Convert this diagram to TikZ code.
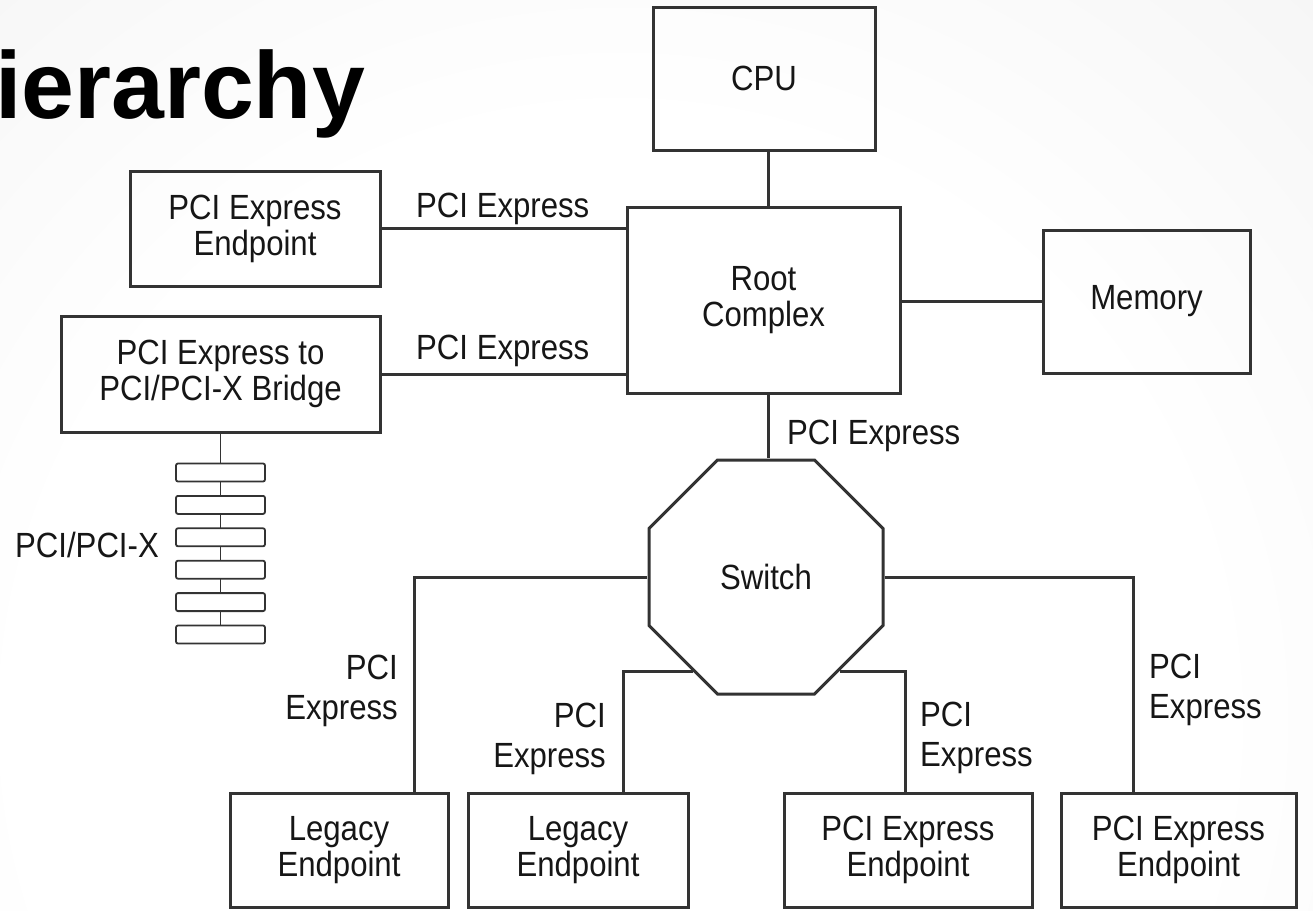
\documentclass[tikz,border=0pt]{standalone}
\usepackage{fontspec}
\setmainfont{Liberation Sans}[FakeStretch=0.89]
\newfontfamily\headfont{Liberation Sans}
\usetikzlibrary{shapes.geometric,calc}
\definecolor{ink}{HTML}{161616}
\definecolor{wire}{HTML}{333333}
\definecolor{bgedge}{HTML}{E0E0E0}
% soft light spot behind the diagram
\pgfdeclareradialshading{glow}{\pgfpoint{0bp}{0bp}}{color(0bp)=(white); color(7.5bp)=(white); color(25bp)=(bgedge); color(50bp)=(bgedge)}
\begin{document}
\begin{tikzpicture}[x=1pt,y=-1pt,
  wirestyle/.style={draw=wire, line width=3pt},
  thinwire/.style={draw=wire, line width=1.8pt},
  box/.style={draw=wire, line width=3pt, rectangle, inner sep=0pt, align=center,
    text=ink, font=\fontsize{35}{36}\selectfont},
  lbl/.style={text=ink, inner sep=0pt, font=\fontsize{35}{40}\selectfont},
  busrect/.style={draw=wire, line width=1.8pt, rounded corners=2pt,
    minimum width=89pt, minimum height=18pt, inner sep=0pt, outer sep=0pt}
]
\useasboundingbox (0,0) rectangle (1313,910);
% background
\fill[bgedge] (0,0) rectangle (1313,910);
\begin{scope}
  \clip (0,0) rectangle (1313,910);
  \shade[shading=glow] (620,720) circle (2000);
\end{scope}

% heading
\node[anchor=base west, inner sep=0pt, text=black,
  font=\headfont\bfseries\fontsize{95}{95}\selectfont] (title) at (-5,118) {ierarchy};

% main components
\node[box, minimum width=222pt, minimum height=143pt] (cpu) at (764,78.5) {CPU};
\node[box, minimum width=273pt, minimum height=186pt] (root) at (763.5,300) {Root\\Complex};
\node[box, minimum width=207pt, minimum height=143pt] (mem) at (1146.5,301.5) {Memory};
\node[box, minimum width=250pt, minimum height=115pt] (ep) at (255,228.5) {PCI Express\\Endpoint};
\node[box, minimum width=319pt, minimum height=116pt] (bridge) at (220.5,374) {PCI Express to\\PCI/PCI-X Bridge};
\node[draw=wire, line width=3pt, regular polygon, regular polygon sides=8,
  minimum size=253.3pt, inner sep=0pt, text=ink,
  font=\fontsize{35}{36}\selectfont] (switch) at (766,577) {Switch};

% endpoints below the switch
\node[box, minimum width=218pt, minimum height=114pt] (le1) at (339,850) {Legacy\\Endpoint};
\node[box, minimum width=220pt, minimum height=114pt] (le2) at (578,850) {Legacy\\Endpoint};
\node[box, minimum width=248pt, minimum height=114pt] (pe1) at (908,850) {PCI Express\\Endpoint};
\node[box, minimum width=235pt, minimum height=114pt] (pe2) at (1178.5,850) {PCI Express\\Endpoint};

% PCI/PCI-X bus slots
\foreach \i in {0,...,5}
  \node[busrect] (bus\i) at (220.5,{472.5+32.4*\i}) {};

% links
\draw[wirestyle] ([xshift=4pt]cpu.south) -- ([xshift=4pt]cpu.south |- root.north);
\draw[wirestyle] (root.east |- mem.west) -- (mem.west);
\draw[wirestyle] (ep.east) -- (ep.east -| root.west);
\draw[wirestyle] (bridge.east) -- (bridge.east -| root.west);
\draw[wirestyle] ([xshift=4.5pt]root.south) -- ([xshift=4.5pt]root.south |- switch.north);
\draw[wirestyle] (switch.west) -| ([xshift=75pt]le1.north);
\draw[wirestyle] (switch.232) -| ([xshift=45pt]le2.north);
\draw[wirestyle] (switch.308) -| ([xshift=-3pt]pe1.north);
\draw[wirestyle] (switch.east) -| ([xshift=-45.5pt]pe2.north);
\draw[thinwire] (bridge.south) -- (bus0.north);
\foreach \i [evaluate=\i as \j using int(\i+1)] in {0,...,4}
  \draw[thinwire] (bus\i.south) -- (bus\j.north);

% link labels
\node[lbl, anchor=base west] (l1) at (416,217) {PCI Express};
\node[lbl, anchor=base west] (l2) at (416,359) {PCI Express};
\node[lbl, anchor=base west] (l3) at (787,444) {PCI Express};
\node[lbl, anchor=base east] (l4) at (159,557) {PCI/PCI-X};
\node[lbl, align=right, anchor=north east] (l5) at (398,655) {PCI\\Express};
\node[lbl, align=right, anchor=north east] (l6) at (606,703) {PCI\\Express};
\node[lbl, align=left, anchor=north west] (l7) at (920,702) {PCI\\Express};
\node[lbl, align=left, anchor=north west] (l8) at (1149,654) {PCI\\Express};
\end{tikzpicture}
\end{document}
